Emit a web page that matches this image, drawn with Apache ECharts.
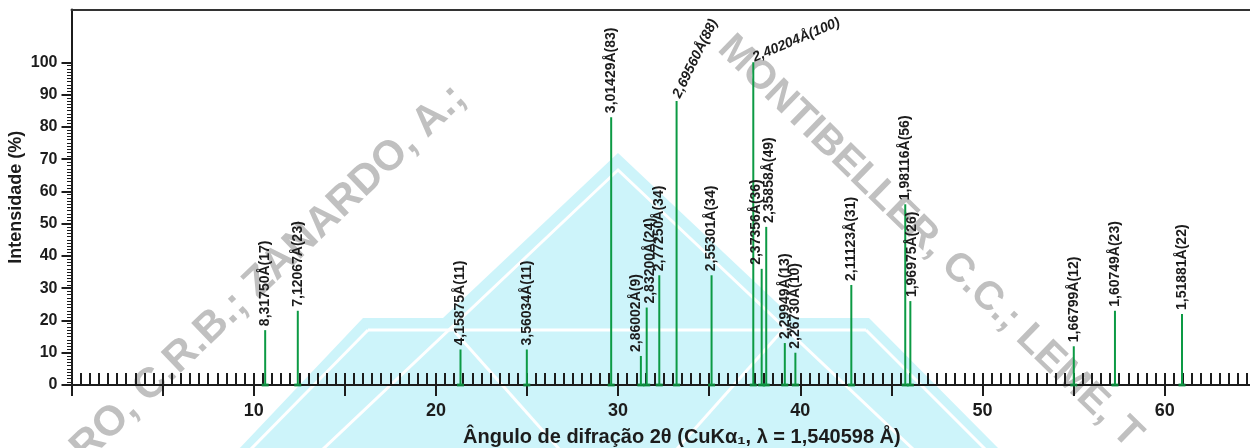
<!DOCTYPE html>
<html>
<head>
<meta charset="utf-8">
<script src="https://cdn.jsdelivr.net/npm/echarts@6/dist/echarts.min.js"></script>
<style>
  html, body { margin: 0; padding: 0; background: #fff; }
  #chart { width: 1250px; height: 448px; }
</style>
</head>
<body>
<div id="chart"></div>
<script>
// interplanar spacing (Å) of each reflection, used as label
const dSpacing = ['8,31750', '7,12067', '4,15875', '3,56034', '3,01429', '2,86002', '2,83200',
    '2,77250', '2,69560', '2,55301', '2,40204', '2,37356', '2,35858', '2,29949', '2,26730',
    '2,11123', '1,98116', '1,96975', '1,66799', '1,60749', '1,51881'];
// peak position, 2θ in degrees
const twoTheta = [10.63, 12.42, 21.35, 24.99, 29.62, 31.25, 31.57, 32.26, 33.21, 35.13, 37.42,
    37.88, 38.13, 39.15, 39.73, 42.80, 45.76, 46.04, 55.01, 57.27, 60.95];
// relative intensity (%)
const intensity = [17, 23, 11, 11, 83, 9, 24, 34, 88, 34, 100, 36, 49, 13, 10, 31, 56, 26, 12, 23, 22];

const FONT = '"Liberation Sans", Arial, sans-serif';
const INK = '#1c1c1c';
const GREEN = '#0c9a44';

const X_MAX = 67;
const PX_PER_DEG = 18.22;
const LEFT = 71.5;
const BOTTOM_Y = 385;
const PX_PER_PCT = 3.227;

// labels that were tilted or nudged sideways in the original figure
// (offset is in the rotated text frame: second value moves the label right)
const labelRotate = { 8: 64, 10: 23 };
const labelNudge = { 5: [0, -5], 6: [0, 3], 11: [0, -6], 12: [0, 3], 17: [0, 2] };

const stems = twoTheta.map((t, i) => {
    const item = { value: [t, intensity[i]] };
    if (labelRotate[i] !== undefined) {
        item.label = { rotate: labelRotate[i], fontStyle: 'italic' };
    }
    if (labelNudge[i]) {
        item.label = Object.assign(item.label || {}, { offset: labelNudge[i] });
    }
    return item;
});
const bases = twoTheta.map(t => [t, 0]);

const chart = echarts.init(document.getElementById('chart'), null, { renderer: 'canvas' });

const whiteLine = pts => ({
    type: 'polyline', z: -19, silent: true,
    shape: { points: pts },
    style: { stroke: '#fff', lineWidth: 3, fill: null }
});

const option = {
    animation: false,
    backgroundColor: '#fff',
    textStyle: { fontFamily: FONT },
    graphic: [
        // light cyan logo in the background
        {
            type: 'polygon', z: -20, silent: true,
            shape: { points: [[618, 153], [793, 318], [869, 318], [1000, 450], [238, 450], [363, 318], [443, 318]] },
            style: { fill: '#cdf4fa' }
        },
        whiteLine([[368, 330], [866, 330]]),
        whiteLine([[322, 450], [618, 170], [914, 450]]),
        whiteLine([[368, 330], [250, 450]]),
        whiteLine([[866, 330], [986, 450]]),
        whiteLine([[455, 332], [560, 450]]),
        whiteLine([[781, 332], [676, 450]]),
        // grey author watermark
        {
            type: 'text', z: -10, silent: true,
            x: 92, y: 470, rotation: 0.76,
            style: {
                text: 'RO, C.R.B.; ZANARDO, A.;',
                font: 'bold 42px ' + FONT,
                fill: 'rgba(140,140,140,0.55)',
                textVerticalAlign: 'bottom'
            }
        },
        {
            type: 'text', z: -10, silent: true,
            x: 738, y: 28, rotation: -0.77,
            style: {
                text: 'MONTIBELLER, C.C.; LEME, T',
                font: 'bold 40px ' + FONT,
                fill: 'rgba(140,140,140,0.55)',
                textVerticalAlign: 'top'
            }
        }
    ],
    grid: [
        {
            left: LEFT, top: 9.5, width: X_MAX * PX_PER_DEG, height: BOTTOM_Y - 9.5,
            containLabel: false, outerBoundsMode: 'none'
        },
        {
            left: LEFT, top: BOTTOM_Y - 100 * PX_PER_PCT, width: X_MAX * PX_PER_DEG, height: 100 * PX_PER_PCT,
            containLabel: false, outerBoundsMode: 'none'
        }
    ],
    xAxis: [
        {
            // fine ticks pointing into the plot
            gridIndex: 0, type: 'value', position: 'bottom', min: 0, max: X_MAX, interval: 0.5,
            axisLine: { show: true, onZero: false, lineStyle: { color: INK, width: 2 } },
            axisTick: { show: true, inside: true, length: 12, lineStyle: { color: INK, width: 2 } },
            axisLabel: { show: false },
            splitLine: { show: false }
        },
        {
            // top frame line
            gridIndex: 0, type: 'value', position: 'top', min: 0, max: X_MAX,
            axisLine: { show: true, onZero: false, lineStyle: { color: '#333', width: 2 } },
            axisTick: { show: false },
            axisLabel: { show: false },
            splitLine: { show: false }
        },
        {
            // labelled ticks pointing out
            gridIndex: 1, type: 'value', position: 'bottom', min: 0, max: X_MAX, interval: 5,
            axisLine: { show: false, onZero: false },
            axisTick: { show: true, inside: false, length: 11, lineStyle: { color: INK, width: 2 } },
            axisLabel: {
                margin: 17,
                color: INK, fontSize: 18, fontWeight: 'bold', fontFamily: FONT,
                formatter: v => (v > 0 && v % 10 === 0) ? String(v) : ''
            },
            splitLine: { show: false },
            name: 'Ângulo de difração 2θ (CuKα\u2081, λ = 1,540598 Å)',
            nameLocation: 'middle',
            nameGap: 42,
            nameTextStyle: { color: INK, fontSize: 20, fontWeight: 'bold', fontFamily: FONT }
        }
    ],
    yAxis: [
        {
            gridIndex: 0, type: 'value', min: 0, max: (BOTTOM_Y - 9.5) / PX_PER_PCT,
            axisLine: { show: true, onZero: false, lineStyle: { color: INK, width: 2 } },
            axisTick: { show: false },
            axisLabel: { show: false },
            splitLine: { show: false },
            name: 'Intensidade (%)',
            nameLocation: 'middle',
            nameGap: 46,
            nameTextStyle: { color: INK, fontSize: 18, fontWeight: 'bold', fontFamily: FONT }
        },
        {
            gridIndex: 1, type: 'value', min: 0, max: 100, interval: 10,
            axisLine: { show: false, onZero: false },
            axisTick: { show: true, length: 10, lineStyle: { color: INK, width: 2 } },
            minorTick: { show: true, splitNumber: 10, length: 4.5, lineStyle: { color: INK, width: 1 } },
            axisLabel: { margin: 14, color: INK, fontSize: 16, fontWeight: 'bold', fontFamily: FONT },
            splitLine: { show: false }
        }
    ],
    series: [
        {
            name: 'peaks',
            type: 'bar',
            xAxisIndex: 0,
            yAxisIndex: 0,
            barWidth: 2,
            itemStyle: { color: GREEN },
            label: {
                show: true,
                position: 'top',
                distance: 4,
                rotate: 90,
                align: 'left',
                verticalAlign: 'middle',
                color: INK,
                fontSize: 14,
                fontWeight: 'bold',
                fontFamily: FONT,
                formatter: p => dSpacing[p.dataIndex] + 'Å(' + intensity[p.dataIndex] + ')'
            },
            data: stems,
            z: 3
        },
        {
            name: 'base',
            type: 'scatter',
            xAxisIndex: 0,
            yAxisIndex: 0,
            symbol: 'rect',
            symbolSize: [7, 3],
            itemStyle: { color: GREEN },
            data: bases,
            z: 4
        }
    ]
};

chart.setOption(option);
</script>
</body>
</html>
